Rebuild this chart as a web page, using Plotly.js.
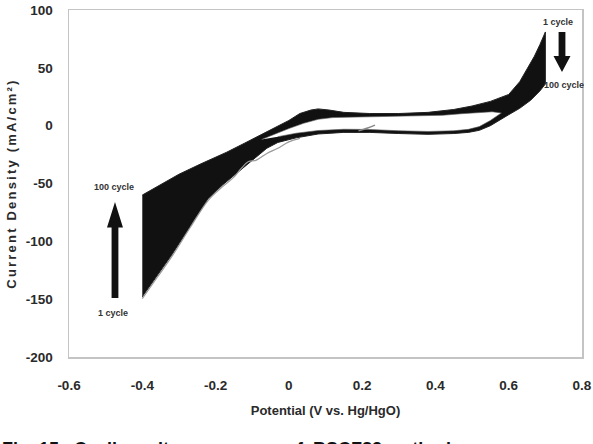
<!DOCTYPE html>
<html>
<head>
<meta charset="utf-8">
<script src="https://cdn.plot.ly/plotly-3.0.1.min.js"></script>
<style>html,body{margin:0;padding:0;background:#fff;}#chart{width:593px;height:444px;}</style>
</head>
<body>
<div id="chart"></div>
<script>
// ---- Data (potential V vs Hg/HgO, current density mA/cm2) ----
// Upper envelope of all 100 cycles (left vertex -> right vertex)
var upperEdgeX = [-0.40,-0.35,-0.30,-0.24,-0.17,-0.12,-0.08,-0.04,0.00,0.03,0.06,0.08,0.11,0.15,0.22,0.30,0.38,0.45,0.50,0.55,0.60,0.63,0.65,0.67,0.685,0.70];
var upperEdgeY = [-60,-51,-42,-33,-23,-15,-8.5,-2.5,4.5,10.5,13.5,14.5,13.5,11.5,10.5,10.5,11.5,14,17,21,27,38,49,60,70,81];
// Lower envelope of all 100 cycles (right vertex -> left vertex)
var lowerEdgeX = [0.70,0.685,0.66,0.63,0.60,0.585,0.55,0.52,0.49,0.45,0.38,0.30,0.22,0.15,0.08,0.02,-0.03,-0.06,-0.10,-0.12,-0.15,-0.18,-0.22,-0.27,-0.32,-0.36,-0.40];
var lowerEdgeY = [36,30,22,15,9.5,6.5,0,-4,-5.8,-6.8,-7.5,-6.8,-5.8,-5.8,-7.2,-10.5,-14.5,-19.5,-30,-35,-43,-51,-63,-87,-112,-130,-148];
// Open area inside the loops: lower side of anodic branch (left -> right)
var holeTopX = [-0.075,-0.04,0.00,0.04,0.08,0.12,0.20,0.30,0.36,0.42,0.47,0.52,0.555,0.58];
var holeTopY = [-12,-7.5,-2.5,2,5.5,7,7.5,8,8.3,9,10.3,11.5,12,11];
// Upper side of cathodic branch (right -> left)
var holeBottomX = [0.565,0.55,0.52,0.49,0.45,0.38,0.30,0.22,0.15,0.08,0.02,-0.03];
var holeBottomY = [7.5,4.5,-0.8,-3.2,-4.4,-5,-4.4,-3.3,-3.1,-4.2,-6.5,-9.5];
// First cycle trace visible just below the band
var cycle1X = [-0.40,-0.36,-0.32,-0.27,-0.22,-0.18,-0.15,-0.13,-0.11,-0.09,-0.06,-0.03,0.00,0.03];
var cycle1Y = [-149.5,-131.5,-113.5,-88.5,-64.5,-52.5,-44.5,-37,-31,-30,-24,-19.5,-14,-11];
// Start of the first scan
var startX = [0.19,0.215,0.235];
var startY = [-4.5,-2,0.5];

var xTicks = [-0.6,-0.4,-0.2,0,0.2,0.4,0.6,0.8];
var xTickText = ['-0.6','-0.4','-0.2','0','0.2','0.4','0.6','0.8'];
var yTicks = [-200,-150,-100,-50,0,50,100];
var yTickText = ['-200','-150','-100','-50','0','50','100'];

var bandX = upperEdgeX.concat(lowerEdgeX);
var bandY = upperEdgeY.concat(lowerEdgeY);
var holeX = holeTopX.concat(holeBottomX);
var holeY = holeTopY.concat(holeBottomY);

var traces = [
  {x: bandX, y: bandY, mode: 'lines', fill: 'toself', fillcolor: '#111',
   line: {color: '#222', width: 1}, hoverinfo: 'skip', showlegend: false},
  {x: holeX, y: holeY, mode: 'lines', fill: 'toself', fillcolor: '#fff',
   line: {color: '#555', width: 0.6}, hoverinfo: 'skip', showlegend: false},
  {x: cycle1X, y: cycle1Y, mode: 'lines', line: {color: '#9a9a9a', width: 1.2, shape: 'spline'},
   hoverinfo: 'skip', showlegend: false},
  {x: startX, y: startY, mode: 'lines', line: {color: '#888', width: 1.4, shape: 'spline'},
   hoverinfo: 'skip', showlegend: false}
];

var fontFam = 'Liberation Sans, Arial, sans-serif';
var annFont = {family: fontFam, size: 9, color: '#333', weight: 'bold'};
var tickF = {family: fontFam, size: 13.5, color: '#2a2a2a', weight: 'bold'};

var layout = {
  width: 593, height: 444,
  margin: {l: 69, r: 11, t: 10, b: 87},
  paper_bgcolor: '#fff', plot_bgcolor: '#fff',
  font: {family: fontFam, color: '#222'},
  xaxis: {
    range: [-0.6, 0.8], tickvals: xTicks, ticktext: xTickText,
    showgrid: false, zeroline: false, showline: true, mirror: true,
    linecolor: '#c4c4c4', linewidth: 1.5, ticks: '',
    ticklabelstandoff: 15,
    tickfont: tickF,
    title: {text: 'Potential (V vs. Hg/HgO)', standoff: 14,
            font: {family: fontFam, size: 13, color: '#2a2a2a', weight: 'bold'}}
  },
  yaxis: {
    range: [-200, 100], tickvals: yTicks, ticktext: yTickText,
    showgrid: false, zeroline: false, showline: true, mirror: true,
    linecolor: '#c4c4c4', linewidth: 1.5, ticks: '',
    ticklabelstandoff: 12,
    tickfont: tickF,
    title: {text: 'Current Density (mA/cm²)', standoff: 6,
            font: {family: fontFam, size: 13, color: '#2a2a2a', weight: 'bold'}}
  },
  shapes: [
    {type: 'path', xref: 'x', yref: 'y', fillcolor: '#111', line: {width: 0},
     path: 'M -0.4838,-149 L -0.4838,-88 L -0.4963,-88 L -0.4745,-66 L -0.4527,-88 L -0.4652,-88 L -0.4652,-149 Z'},
    {type: 'path', xref: 'x', yref: 'y', fillcolor: '#111', line: {width: 0},
     path: 'M 0.7361,81 L 0.7361,60.2 L 0.7222,60.2 L 0.7454,46.4 L 0.7686,60.2 L 0.7547,60.2 L 0.7547,81 Z'}
  ],
  annotations: [
    {x: 0.7346, y: 89.6, xref: 'x', yref: 'y', text: '1 cycle', showarrow: false, font: annFont},
    {x: 0.751, y: 35.2, xref: 'x', yref: 'y', text: '100 cycle', showarrow: false, font: annFont},
    {x: -0.4772, y: -53, xref: 'x', yref: 'y', text: '100 cycle', showarrow: false, font: annFont},
    {x: -0.480, y: -162, xref: 'x', yref: 'y', text: '1 cycle', showarrow: false, font: annFont},
    {x: -0.1345, y: -0.2305, xref: 'paper', yref: 'paper', xanchor: 'left', yanchor: 'top',
     text: 'Fig. 15\u00a0\u00a0\u00a0Cyclic\u00a0 voltammograms\u00a0 of\u00a0 BSCF82\u00a0 cathode', showarrow: false,
     font: {family: fontFam, size: 18, color: '#111', weight: 'bold'}}
  ]
};

Plotly.newPlot('chart', traces, layout, {staticPlot: true, displayModeBar: false}).then(function(gd){
  var yt = gd.querySelector('.g-ytitle text');
  if (yt) { yt.setAttribute('letter-spacing', '2.2px'); }
});
</script>
</body>
</html>
